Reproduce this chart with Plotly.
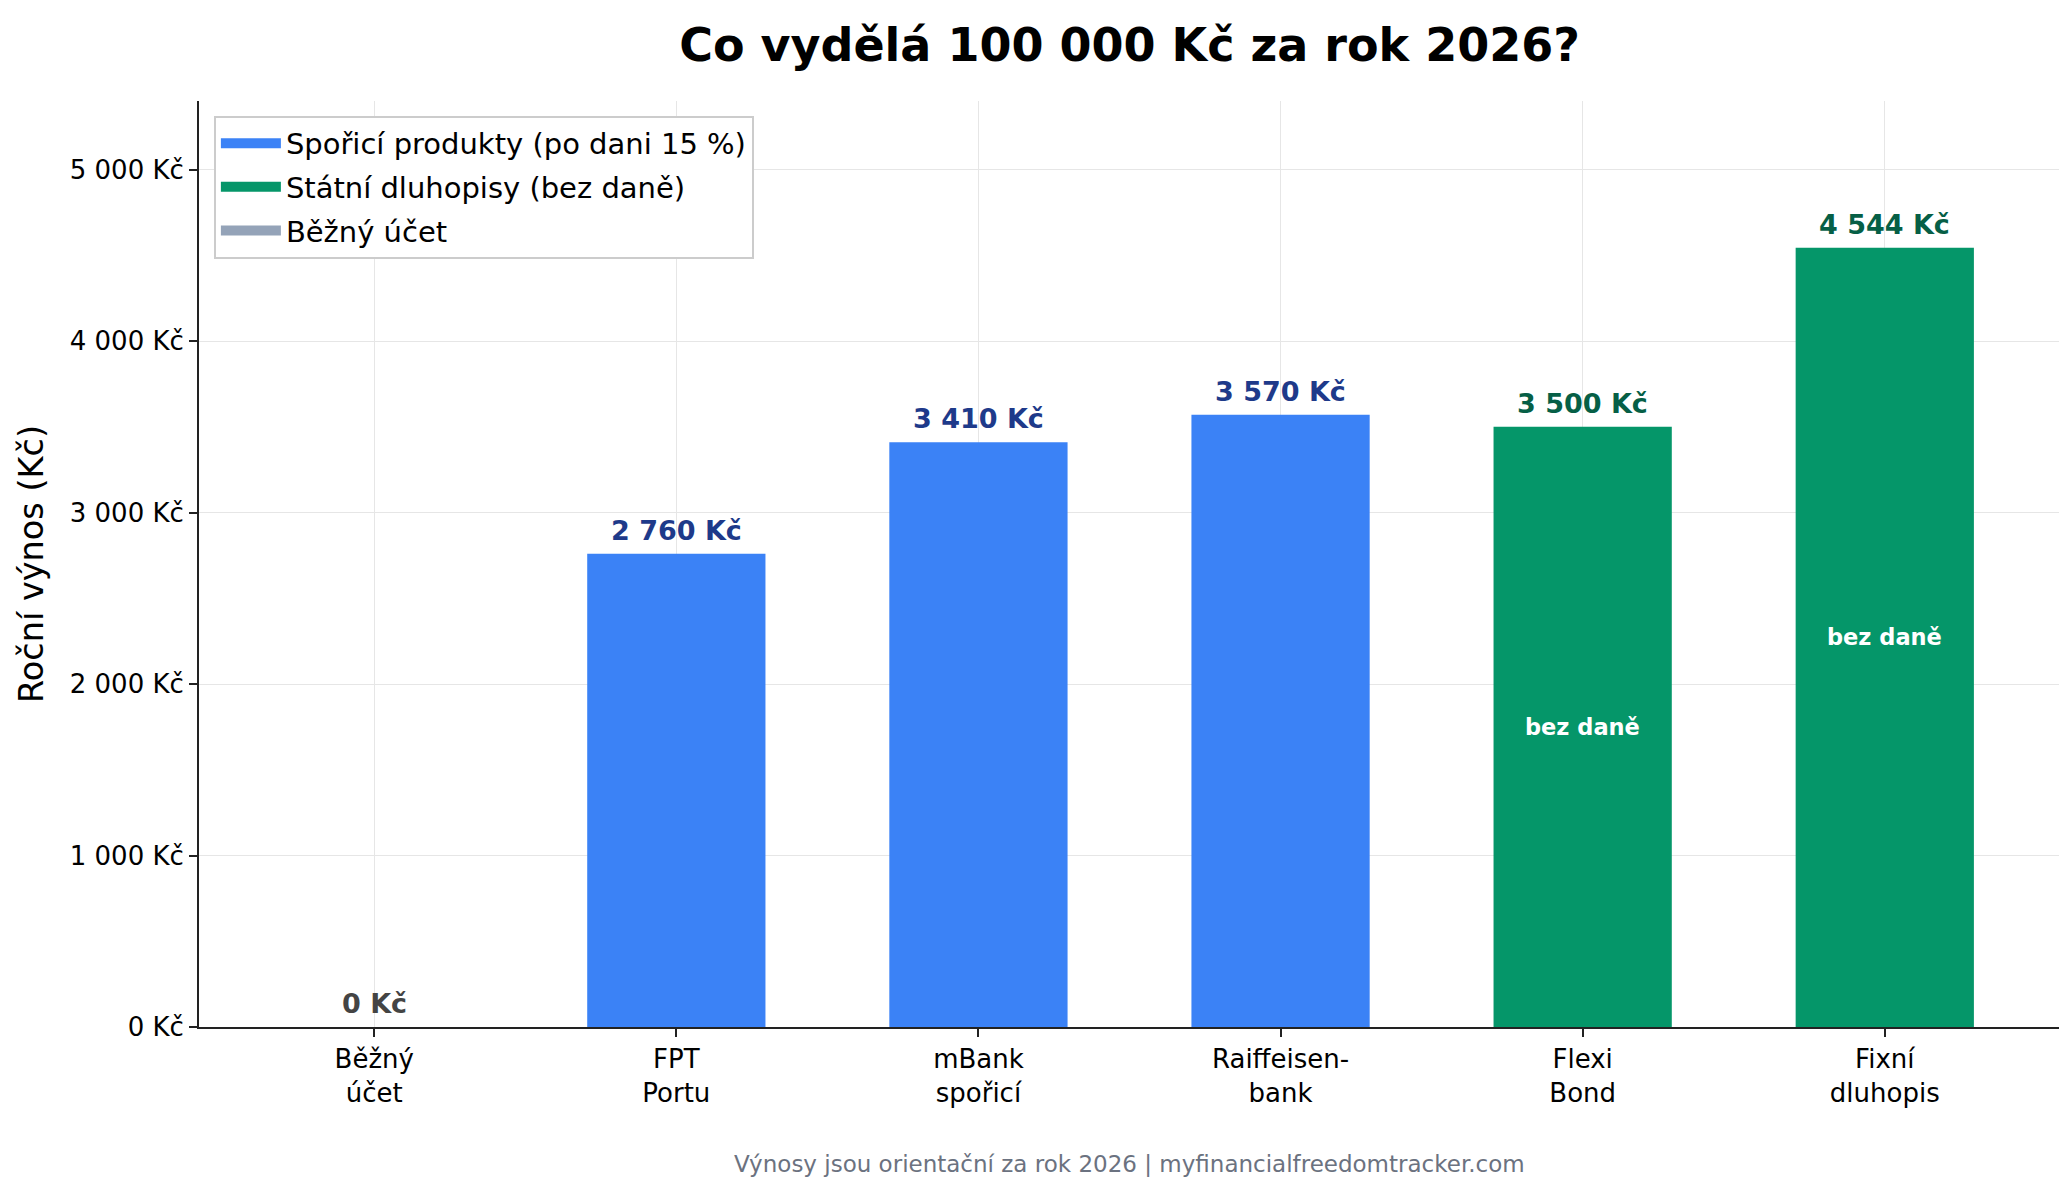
import plotly.graph_objects as go

# data
categories = ["Běžný<br>účet", "FPT<br>Portu", "mBank<br>spořicí",
              "Raiffeisen-<br>bank", "Flexi<br>Bond", "Fixní<br>dluhopis"]
values = [0, 2760, 3410, 3570, 3500, 4544]
groups = ["bezny", "sporici", "sporici", "sporici", "statni", "statni"]

group_names = {
    "sporici": "Spořicí produkty (po dani 15 %)",
    "statni": "Státní dluhopisy (bez daně)",
    "bezny": "Běžný účet",
}
bar_colors = {"sporici": "#3b82f6", "statni": "#059669", "bezny": "#94a3b8"}
label_colors = {"sporici": "#1e3a8a", "statni": "#065f46", "bezny": "#444444"}

tick_vals = [0, 1000, 2000, 3000, 4000, 5000]

FONT = "DejaVu Sans"


def kc(v):
    return f"{v:,}".replace(",", " ") + " Kč"


fig = go.Figure()

for g in ["sporici", "statni", "bezny"]:
    xs = [c for c, gg in zip(categories, groups) if gg == g]
    ys = [v for v, gg in zip(values, groups) if gg == g]
    fig.add_trace(go.Bar(
        x=xs, y=ys, name=group_names[g], legendgroup=g, showlegend=False,
        marker=dict(color=bar_colors[g], line=dict(width=0)),
        width=0.59, hoverinfo="skip",
    ))
    # wide legend swatch like matplotlib's patch
    fig.add_trace(go.Scatter(
        x=[None], y=[None], mode="lines", name=group_names[g],
        legendgroup=g, line=dict(color=bar_colors[g], width=21),
    ))

# value labels above bars
for c, v, g in zip(categories, values, groups):
    fig.add_annotation(
        x=c, y=v, text=f"<b>{kc(v)}</b>", showarrow=False,
        yanchor="bottom", yshift=6,
        font=dict(family=FONT, size=27, color=label_colors[g]),
    )
    if g == "statni":
        fig.add_annotation(
            x=c, y=v / 2, text="<b>bez daně</b>", showarrow=False,
            font=dict(family=FONT, size=22.5, color="white"),
        )

fig.add_annotation(
    text="Výnosy jsou orientační za rok 2026 | myfinancialfreedomtracker.com",
    xref="paper", yref="paper", x=0.5, y=-0.148, showarrow=False,
    yanchor="middle", font=dict(family=FONT, size=23, color="#6b7280"),
)

fig.update_layout(
    width=2067, height=1179,
    paper_bgcolor="white", plot_bgcolor="white",
    font=dict(family=FONT, size=26, color="black"),
    title=dict(text="<b>Co vydělá 100 000 Kč za rok 2026?</b>",
               xref="paper", x=0.5, xanchor="center", y=0.969, yanchor="middle",
               font=dict(family=FONT, size=46, color="black")),
    margin=dict(l=191, r=15, t=93, b=160),
    barmode="overlay",
    showlegend=True,
    legend=dict(x=0.008, y=0.984, xanchor="left", yanchor="top",
                bgcolor="white", bordercolor="#cccccc", borderwidth=2,
                font=dict(family=FONT, size=29), tracegroupgap=3,
                traceorder="grouped", itemwidth=60),
)

fig.update_xaxes(
    categoryorder="array", categoryarray=categories,
    range=[-0.58, 5.58],
    showgrid=True, gridcolor="#e6e6e6", gridwidth=1,
    showline=True, linecolor="#222222", linewidth=2,
    ticks="outside", ticklen=8, tickwidth=1.5, tickcolor="#222222",
    tickfont=dict(family=FONT, size=26),
)
fig.update_yaxes(
    range=[0, 5400], tickvals=tick_vals,
    ticktext=[kc(v) for v in tick_vals],
    showgrid=True, gridcolor="#e6e6e6", gridwidth=1,
    zeroline=False,
    showline=True, linecolor="#222222", linewidth=2,
    ticks="outside", ticklen=8, tickwidth=1.5, tickcolor="#222222",
    tickfont=dict(family=FONT, size=26),
    title=dict(text="Roční výnos (Kč)", font=dict(family=FONT, size=33.5),
               standoff=16),
)

fig.write_html("out.html")
